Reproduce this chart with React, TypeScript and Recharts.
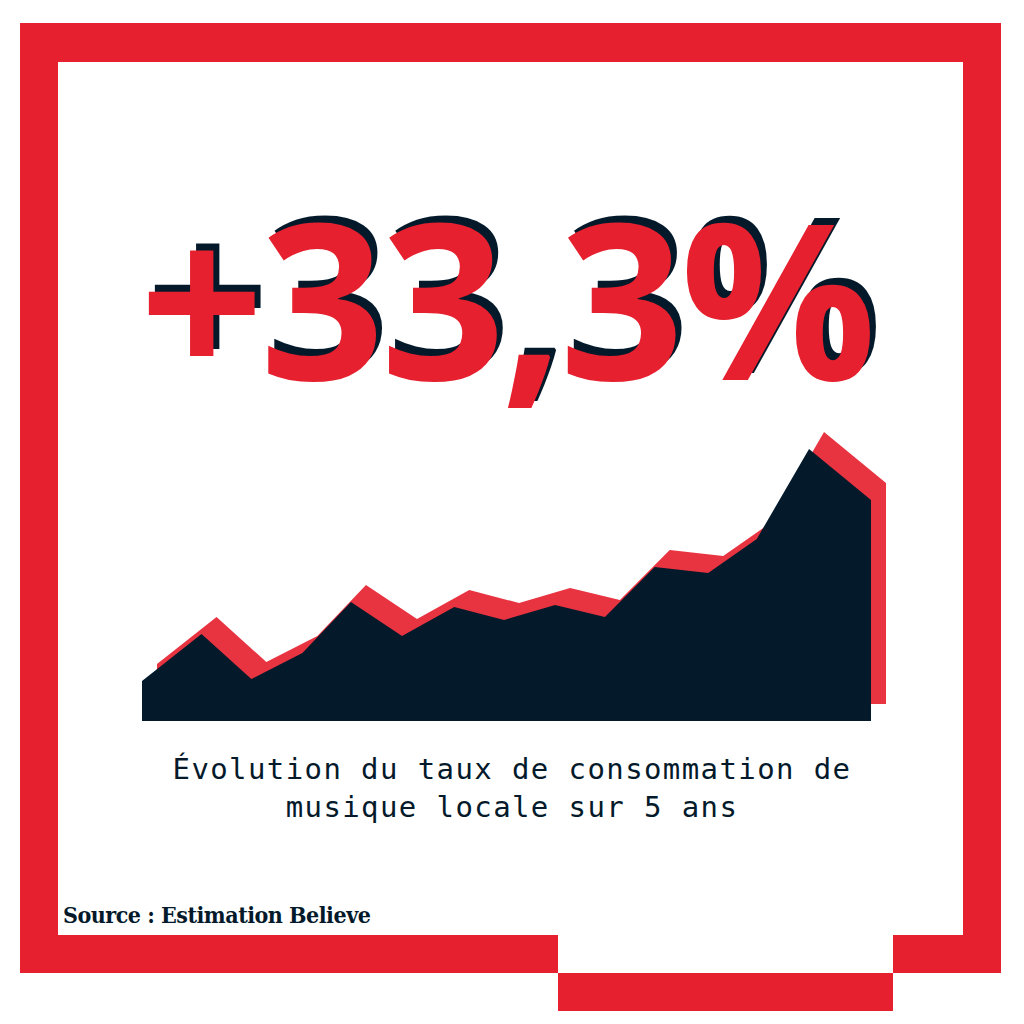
import { AreaChart, Area, XAxis, YAxis } from "recharts";

// 15 relevés sur 5 ans (abscisse en mois)
const mois = [0, 4.9, 9, 13.2, 17.2, 21.4, 25.7, 29.8, 34, 38.1, 42.2, 46.6, 50.6, 54.9, 60];
const taux = [40, 87, 42, 68, 119, 85, 114, 101, 116, 104, 154, 148, 182, 272, 221];

const titre = "+33,3%";
const legende = ["Évolution du taux de consommation de", "musique locale sur 5 ans"];
const source = "Source : Estimation Believe";

const RED = "#E6202E";
const SHADOW_RED = "#E83341";
const NAVY = "#041A2B";

const data = mois.map((m, i) => ({ mois: m, taux: taux[i] }));

function Courbe({ fill, left, top }: { fill: string; left: number; top: number }) {
  return (
    <div style={{ position: "absolute", left, top }}>
      <AreaChart width={729} height={300} data={data} margin={{ top: 0, right: 0, bottom: 0, left: 0 }}>
        <XAxis dataKey="mois" type="number" domain={[0, 60]} hide />
        <YAxis domain={[0, 300]} hide />
        <Area
          type="linear"
          dataKey="taux"
          stroke="none"
          fill={fill}
          fillOpacity={1}
          isAnimationActive={false}
        />
      </AreaChart>
    </div>
  );
}

export default function App() {
  return (
    <div
      style={{
        position: "absolute",
        left: 0,
        top: 0,
        width: 1024,
        height: 1024,
        background: "#fff",
        overflow: "hidden",
      }}
    >
      {/* cadre */}
      <div style={{ position: "absolute", left: 20, top: 23, width: 981, height: 39, background: RED }} />
      <div style={{ position: "absolute", left: 20, top: 23, width: 38, height: 950, background: RED }} />
      <div style={{ position: "absolute", left: 963, top: 23, width: 38, height: 950, background: RED }} />
      <div style={{ position: "absolute", left: 20, top: 935, width: 538, height: 38, background: RED }} />
      <div style={{ position: "absolute", left: 893, top: 935, width: 108, height: 38, background: RED }} />
      <div style={{ position: "absolute", left: 558, top: 973, width: 335, height: 38, background: RED }} />

      <div
        style={{
          position: "absolute",
          left: -6,
          top: 146,
          width: 1024,
          textAlign: "center",
          fontFamily: "'Open Sans'",
          fontWeight: 700,
          fontSize: 218,
          lineHeight: "300px",
          letterSpacing: -4,
          color: RED,
          textShadow: `6px -7px 0 ${NAVY}`,
        }}
      >
        {titre}
      </div>

      <Courbe fill={SHADOW_RED} left={157} top={404} />
      <Courbe fill={NAVY} left={142} top={421} />

      <div
        style={{
          position: "absolute",
          left: 0,
          top: 750,
          width: 1024,
          textAlign: "center",
          fontFamily: "DejaVu Sans Mono",
          fontSize: 29,
          lineHeight: "38px",
          letterSpacing: 1.4,
          color: NAVY,
        }}
      >
        {legende.map((l) => (
          <div key={l}>{l}</div>
        ))}
      </div>

      <div
        style={{
          position: "absolute",
          left: 63,
          top: 900,
          fontFamily: "DejaVu Serif Condensed",
          fontWeight: 700,
          fontSize: 23,
          lineHeight: "30px",
          letterSpacing: -0.5,
          color: NAVY,
        }}
      >
        {source}
      </div>
    </div>
  );
}
